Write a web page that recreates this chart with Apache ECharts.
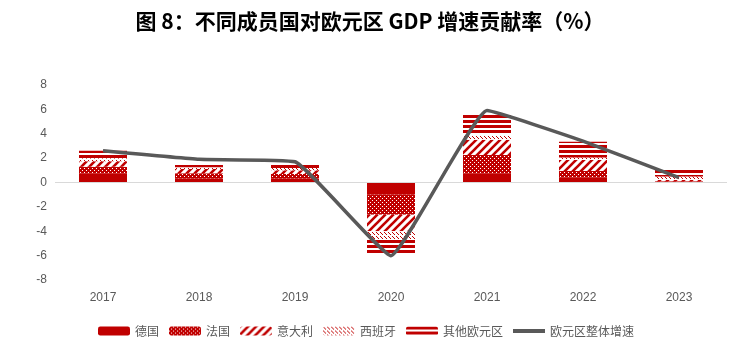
<!DOCTYPE html>
<html>
<head>
<meta charset="utf-8">
<script src="https://cdn.jsdelivr.net/npm/echarts@6/dist/echarts.min.js"></script>
<style>html,body{margin:0;padding:0;background:#fff}#c{width:740px;height:340px}</style>
</head>
<body>
<div id="c"></div>
<script>
const categories = ['2017','2018','2019','2020','2021','2022','2023'];
const germany = [0.75, 0.35, 0.35, -1.0, 0.75, 0.4, 0.0];
const france  = [0.55, 0.4, 0.35, -1.65, 1.5, 0.55, 0.1];
const italy   = [0.45, 0.35, 0.3, -1.35, 1.25, 0.9, 0.1];
const spain   = [0.25, 0.15, 0.2, -0.7, 0.4, 0.2, 0.3];
const others  = [0.6, 0.35, 0.4, -1.15, 1.8, 1.3, 0.6];
const eurozone = [2.6, 1.9, 1.7, -6.0, 5.9, 3.4, 0.4];
const yTicks = {min: -8, max: 8, interval: 2};

const RED = '#C00000';
function pat(w, h, draw) {
  const c = document.createElement('canvas');
  c.width = w; c.height = h;
  const g = c.getContext('2d');
  g.fillStyle = '#fff'; g.fillRect(0, 0, w, h);
  draw(g);
  return {image: c, repeat: 'repeat'};
}
const frPat = pat(4, 4, g => {
  g.fillStyle = RED; g.fillRect(0, 0, 4, 4);
  g.fillStyle = '#fff';
  g.fillRect(0, 0, 1, 1); g.fillRect(2, 2, 1, 1);
});
const itPat = pat(8, 8, g => {
  g.strokeStyle = RED; g.lineWidth = 2.6;
  [[-8, 8, 8, -8], [0, 8, 8, 0], [0, 16, 16, 0]].forEach(([a, b, c, d]) => {
    g.beginPath(); g.moveTo(a, b); g.lineTo(c, d); g.stroke();
  });
});
const esPat = pat(4, 4, g => {
  g.fillStyle = RED;
  g.fillRect(0, 0, 1, 1); g.fillRect(1, 1, 1, 1); g.fillRect(2, 2, 1, 1);
});
const otPat = pat(4, 5, g => {
  g.fillStyle = RED; g.fillRect(0, 0, 4, 3);
});

function barSeries(name, data, color, extra) {
  return Object.assign({
    name, type: 'bar', stack: 'total', data, barWidth: 48,
    itemStyle: {color}
  }, extra || {});
}

const chart = echarts.init(document.getElementById('c'));
chart.setOption({
  animation: false,
  title: {
    text: '图 8：不同成员国对欧元区 GDP 增速贡献率（%）',
    left: 'center', top: 6,
    textStyle: {fontFamily: 'Noto Sans CJK SC', fontWeight: 'bold', fontSize: 21, color: '#000'}
  },
  grid: {left: 55, right: 13, top: 85, bottom: 60},
  legend: {
    left: 93, top: 320, itemWidth: 32, itemHeight: 9, itemGap: 10,
    textStyle: {color: '#595959', fontSize: 12, fontFamily: 'Noto Sans CJK SC'},
    data: ['德国', '法国', '意大利', '西班牙', '其他欧元区',
      {name: '欧元区整体增速', icon: 'path://M0,0L32,0L32,4L0,4Z', itemStyle: {color: '#595959'}}]
  },
  xAxis: {
    type: 'category', data: categories,
    axisLine: {show: false}, axisTick: {show: false},
    axisLabel: {color: '#595959', fontSize: 12, margin: 12}
  },
  yAxis: {
    type: 'value', min: yTicks.min, max: yTicks.max, interval: yTicks.interval,
    axisLine: {show: false}, axisTick: {show: false}, splitLine: {show: false},
    axisLabel: {color: '#595959', fontSize: 12}
  },
  series: [
    barSeries('德国', germany, RED, {
      markLine: {
        silent: true, symbol: 'none', label: {show: false},
        lineStyle: {color: '#d9d9d9', type: 'solid', width: 1},
        data: [{yAxis: 0}]
      }
    }),
    barSeries('法国', france, frPat),
    barSeries('意大利', italy, itPat),
    barSeries('西班牙', spain, esPat),
    barSeries('其他欧元区', others, otPat),
    {
      name: '欧元区整体增速', type: 'line', data: eurozone,
      showSymbol: false, symbol: 'none', smooth: 0.1, z: 5,
      lineStyle: {color: '#595959', width: 3.5},
      itemStyle: {color: '#595959'}
    }
  ]
});
</script>
</body>
</html>
